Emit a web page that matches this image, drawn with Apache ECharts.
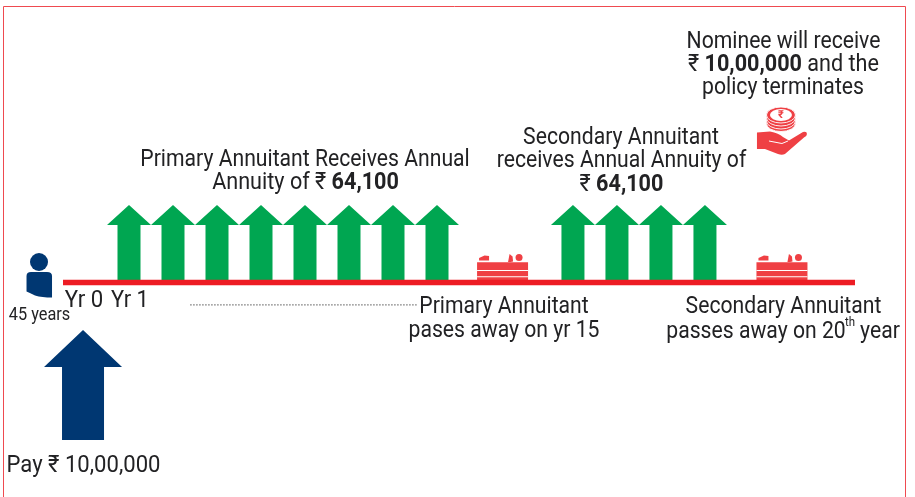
<!DOCTYPE html>
<html><head><meta charset="utf-8">
<style>html,body{margin:0;padding:0;background:#fff}#c{width:915px;height:497px}</style>
<script src="https://cdn.jsdelivr.net/npm/echarts@6/dist/echarts.min.js"></script>
</head><body><div id="c"></div>
<script>
// Schematic timeline slots (x) and heights above the timeline (y)
const primaryArrowSlots = [1, 2, 3, 4, 5, 6, 7, 8];
const secondaryArrowSlots = [11.09, 12.09, 13.09, 14.09];
const greenArrowHeight = 77.5;
const payArrow = [-0.045, -157.5, -47.5];      // slot, base, tip
const timelineExtent = [-0.5, 17.5];
const dottedExtent = [2.39, 7.55];
const dottedLevel = -22.3;
const graveSlots = [9.49, 15.84];
const personAnchor = [-1.045, 20.5];
const handAnchor = [15.84, 150.5];

const nomineeLines = ['Nominee will receive', 'and the', 'policy terminates'];
const primaryLines = ['Primary Annuitant Receives Annual', 'Annuity of'];
const secondaryLines = ['Secondary Annuitant', 'receives Annual Annuity of'];
const annuityAmount = '64,100';
const nomineeAmount = '10,00,000';
const rupee = '₹';
const yearLabels = ['Yr 0', 'Yr 1'];
const ageLabel = '45 years';
const payLabel = 'Pay ₹ 10,00,000';
const primaryDeath = ['Primary Annuitant', 'pases away on yr 15'];
const secondaryDeath = ['Secondary Annuitant', 'passes away on 20', 'th', 'year'];

const INK = '#222224', GREEN = '#00A651', NAVY = '#003772', RED = '#ED1C24', ICON = '#EF4044';
const FONT = 'Roboto, sans-serif';
const S = 24, K = 0.882, K2 = 0.9;

function ellipse(cx, cy, rx, ry) {
  return `M${cx - rx},${cy}A${rx},${ry} 0 1 0 ${cx + rx},${cy}A${rx},${ry} 0 1 0 ${cx - rx},${cy}Z`;
}
function arrowItem(params, api) {
  const x = api.value(0), base = api.value(1), tip = api.value(2);
  const headW = api.value(3), shaftW = api.value(4), headH = api.value(5);
  const pb = api.coord([x, base]), pt = api.coord([x, tip]);
  const cx = pb[0];
  return {
    type: 'polygon',
    shape: { points: [
      [cx, pt[1]], [cx + headW / 2, pt[1] + headH], [cx + shaftW / 2, pt[1] + headH],
      [cx + shaftW / 2, pb[1]], [cx - shaftW / 2, pb[1]], [cx - shaftW / 2, pt[1] + headH],
      [cx - headW / 2, pt[1] + headH]
    ] },
    style: { fill: api.value(6) === 1 ? NAVY : GREEN }
  };
}
function graveItem(params, api) {
  const p = api.coord([api.value(0), 0]);
  return { type: 'group', x: p[0], y: p[1], children: [
    { type: 'rect', shape: { x: -25.5, y: -20.3, width: 51, height: 20 }, style: { fill: ICON } },
    { type: 'rect', shape: { x: -25.5, y: -12.6, width: 51, height: 1.2 }, style: { fill: '#fff' } },
    { type: 'rect', shape: { x: -25.5, y: -6.2, width: 51, height: 1 }, style: { fill: '#fff' } },
    { type: 'polygon', shape: { points: [[-23.5, -24.5], [-18, -27], [-13.5, -26.5], [-13.5, -22], [-23.5, -22]] }, style: { fill: ICON } },
    { type: 'polygon', shape: { points: [[5.5, -20.5], [7, -28.5], [10, -26], [10.5, -21], [8, -20.5]] }, style: { fill: ICON } },
    { type: 'circle', shape: { cx: 16.5, cy: -25, r: 3.5 }, style: { fill: ICON } }
  ] };
}
function personItem(params, api) {
  const p = api.coord([api.value(0), api.value(1)]);
  return { type: 'group', x: p[0], y: p[1], children: [
    { type: 'circle', shape: { cx: 0, cy: 0, r: 9 }, style: { fill: NAVY } },
    { type: 'path', shape: { pathData: 'M-12.5,14Q-12.5,10 -8,10L8,10Q13,10 13,14L13,35.5Q3,35.5 -4,33.5Q-9,31 -12.5,29.5Z' }, style: { fill: NAVY } }
  ] };
}
function handItem(params, api) {
  const p = api.coord([api.value(0), api.value(1)]);
  const coin = (cy) => ({ type: 'path', shape: { pathData: ellipse(-1, cy, 14.5, 8) }, style: { fill: ICON, stroke: '#fff', lineWidth: 0.9 } });
  return { type: 'group', x: p[0], y: p[1], children: [
    { type: 'path', shape: { pathData: 'M-25,0.5L-12,-0.5Q-3,1 1,5L7,8.5L21,0Q25,-1 25,2Q25,4 22,5.5L3,22Q0,23.5 -4,22L-17,17L-25,17Z' }, style: { fill: ICON } },
    { type: 'polyline', shape: { points: [[-13, 9], [0, 11.5], [6, 9]] }, style: { stroke: '#fff', fill: 'none', lineWidth: 1 } },
    coin(-8.5), coin(-11), coin(-14), coin(-17),
    { type: 'path', shape: { pathData: ellipse(-1, -17, 11, 6) }, style: { fill: '#fff' } },
    { type: 'text', style: { text: rupee, x: -1, y: -17, align: 'center', verticalAlign: 'middle', fontFamily: FONT, fontSize: 11, fontWeight: 700, fill: ICON } }
  ] };
}

function T(text, cx, cy, size, sx, rich) {
  return { type: 'text', x: cx, y: cy + 2, scaleX: sx, silent: true, z: 20,
    style: { text, align: 'center', verticalAlign: 'middle', fontFamily: FONT, fontSize: size, fill: INK, rich } };
}
const rich = {
  n: { fontFamily: FONT, fontSize: S, fill: INK },
  b: { fontFamily: FONT, fontSize: S, fontWeight: 700, fill: INK }
};
const graphic = [
  { type: 'polyline', z: 1, silent: true, shape: { points: [[3.5, 497], [3.5, 6.5], [905.5, 6.5], [905.5, 497]] }, style: { fill: 'none', stroke: '#EF4A50', lineWidth: 1 } },
  T(nomineeLines[0], 783.5, 40, S, K),
  T(`{n|${rupee} }{b|${nomineeAmount}}{n| ${nomineeLines[1]}}`, 783.5, 63, S, K2, rich),
  T(nomineeLines[2], 783, 86, S, K),
  T(primaryLines[0], 305, 158, S, K),
  T(`{n|${primaryLines[1]} ${rupee} }{b|${annuityAmount}}`, 305.5, 181, S, K2, rich),
  T(secondaryLines[0], 621, 136, S, K),
  T(secondaryLines[1], 621.5, 159, S, K),
  T(`{n|${rupee} }{b|${annuityAmount}}`, 621.5, 183, S, K2, rich),
  T(yearLabels[0], 84, 299, S, 0.925),
  T(yearLabels[1], 130, 299, S, 0.91),
  T(ageLabel, 39.5, 313, 18, 0.905),
  T(payLabel, 83.5, 464, S, 0.92),
  T(primaryDeath[0], 504, 305, S, K),
  T(primaryDeath[1], 504, 329, S, K),
  T(secondaryDeath[0], 783.5, 305, S, K),
  T(secondaryDeath[1], 756, 330, S, K),
  T(secondaryDeath[2], 850, 321, 13, K),
  T(secondaryDeath[3], 880, 330, S, K)
];

const arrowData = primaryArrowSlots.concat(secondaryArrowSlots)
  .map(s => [s, -2, greenArrowHeight, 44, 23, 20, 0])
  .concat([[payArrow[0], payArrow[1], payArrow[2], 78, 42, 37, 1]]);

const chart = echarts.init(document.getElementById('c'), null, { renderer: 'canvas' });
chart.setOption({
  animation: false,
  backgroundColor: '#fff',
  grid: { left: 0, right: 0, top: 0, bottom: 0 },
  xAxis: { type: 'value', min: -85 / 44, max: 830 / 44, show: false },
  yAxis: { type: 'value', min: -214.5, max: 282.5, show: false },
  graphic,
  series: [
    { type: 'custom', name: 'arrows', renderItem: arrowItem, data: arrowData, clip: false, z: 2 },
    { type: 'line', name: 'timeline', data: timelineExtent.map(x => [x, 0]), symbol: 'none', lineStyle: { color: RED, width: 5.5, cap: 'butt' }, z: 4 },
    { type: 'line', name: 'dots', data: dottedExtent.map(x => [x, dottedLevel]), symbol: 'none', lineStyle: { color: '#777', width: 1.2, type: [1.5, 1.5] }, z: 3 },
    { type: 'custom', name: 'graves', renderItem: graveItem, data: graveSlots.map(s => [s]), z: 3 },
    { type: 'custom', name: 'person', renderItem: personItem, data: [personAnchor], z: 3 },
    { type: 'custom', name: 'hand', renderItem: handItem, data: [handAnchor], z: 3 }
  ]
});
</script></body></html>
